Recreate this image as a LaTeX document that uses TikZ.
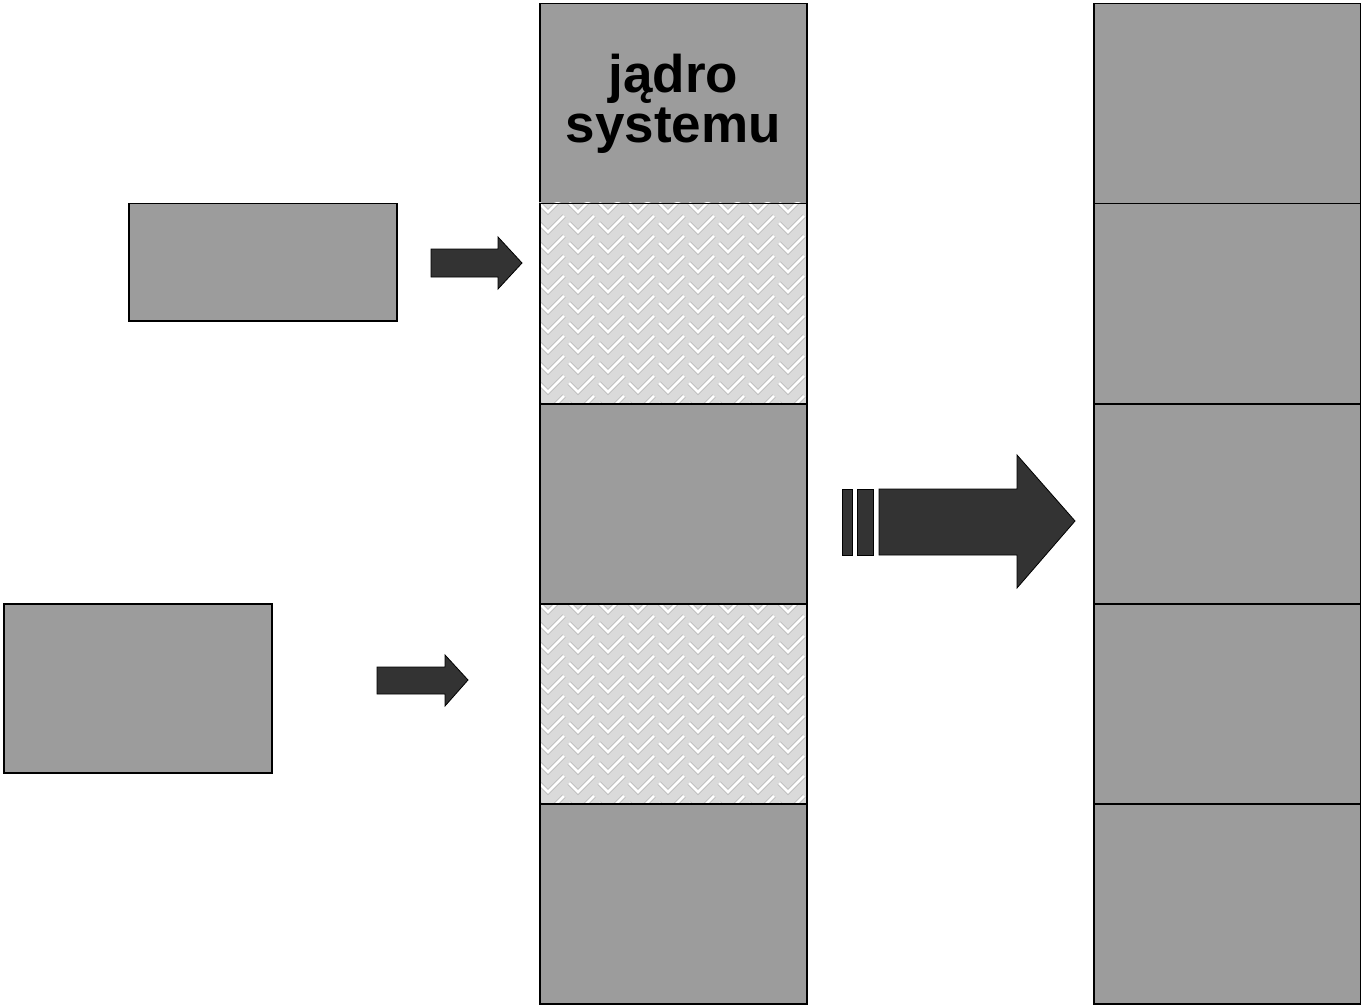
\documentclass[tikz,border=0pt]{standalone}
\usepackage{fontspec}
\setmainfont{Liberation Sans}
\definecolor{boxgray}{HTML}{9C9C9C}
\definecolor{arrowdark}{HTML}{333333}
\definecolor{hatchbg}{HTML}{DADADA}
\definecolor{hatchline}{HTML}{BBBBBB}
\tikzset{
  memblock/.style={draw=black, line width=1.5pt, fill=boxgray},
  darkarrow/.style={fill=arrowdark, draw=black, line width=0.8pt},
  hatchcell/.style={draw=black, line width=1.5pt},
}
\newcommand{\hatchfill}[4]{%
  \begin{scope}
    \clip (#1,#2) rectangle (#3,#4);
    \fill[hatchbg] (#1,#2) rectangle (#3,#4);
    \foreach \ix in {0,...,9}{
      \foreach \iy in {-1,...,10}{
        \pgfmathsetmacro{\px}{#1+\ix*30}
        \pgfmathsetmacro{\py}{#2+\iy*20}
        \draw[hatchline, line width=4.5pt, line cap=butt] (\px,\py) -- ++(9,9) -- ++(16,-16);
        \draw[white, line width=2.5pt, line cap=butt] (\px,\py) -- ++(9,9) -- ++(16,-16);
      }
    }
  \end{scope}
}
\begin{document}
\begin{tikzpicture}[x=1pt,y=-1pt]
\useasboundingbox (0,0) rectangle (1361,1006);
% middle column
\node[memblock, minimum width=267pt, minimum height=200pt, inner sep=0pt, anchor=north west, align=center, font=\bfseries\fontsize{53}{50}\selectfont] (m1) at (539,3) {jądro\\systemu};
\hatchfill{539}{203}{806}{403}
\node[hatchcell, minimum width=267pt, minimum height=200pt, anchor=north west, inner sep=0pt] (m2) at (539,203) {};
\node[memblock, minimum width=267pt, minimum height=200pt, anchor=north west, inner sep=0pt] (m3) at (539,403) {};
\hatchfill{539}{603}{806}{803}
\node[hatchcell, minimum width=267pt, minimum height=200pt, anchor=north west, inner sep=0pt] (m4) at (539,603) {};
\node[memblock, minimum width=267pt, minimum height=200pt, anchor=north west, inner sep=0pt] (m5) at (539,803) {};
% right column
\foreach \k/\yy in {1/3,2/203,3/403,4/603,5/803}{
  \node[memblock, minimum width=267pt, minimum height=200pt, anchor=north west, inner sep=0pt] (r\k) at (1093,\yy) {};
}
% left boxes
\node[memblock, minimum width=268pt, minimum height=117pt, anchor=north west, inner sep=0pt] (p1) at (128,203) {};
\node[memblock, minimum width=268pt, minimum height=169pt, anchor=north west, inner sep=0pt] (p2) at (3,603) {};
% small arrows
\coordinate (a1) at (431,263);
\draw[darkarrow] (a1) ++(0,-14) -- ++(67,0) -- ++(0,-12) -- (522,263) -- (498,289) -- ++(0,-12) -- ++(-67,0) -- cycle;
\coordinate (a2) at (377,680);
\draw[darkarrow] (a2) ++(0,-13) -- ++(68,0) -- ++(0,-12) -- (468,680) -- (445,706) -- ++(0,-12) -- ++(-68,0) -- cycle;
% big arrow
\draw[darkarrow] (842,489) rectangle (852,555);
\draw[darkarrow] (857,489) rectangle (873,555);
\coordinate (bt) at (1075,521);
\draw[darkarrow] (879,489) -- (1017,489) -- (1017,455) -- (bt) -- (1017,588) -- (1017,555) -- (879,555) -- cycle;
\end{tikzpicture}
\end{document}
